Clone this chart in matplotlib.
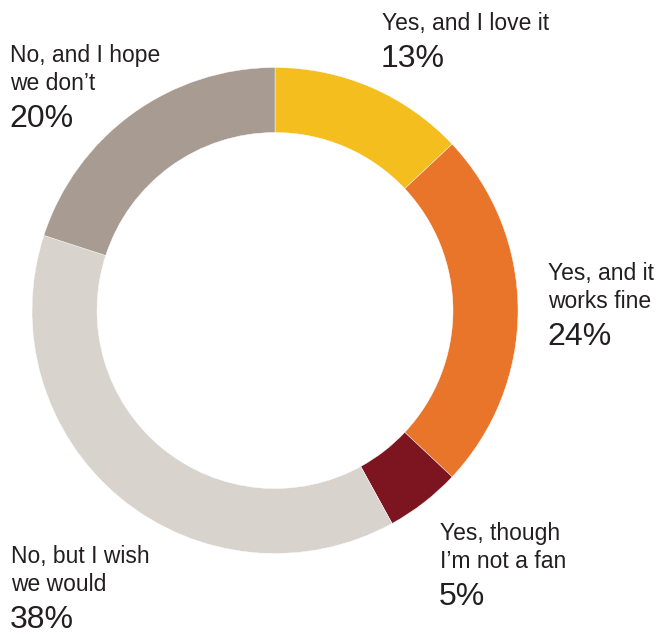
import matplotlib.pyplot as plt

# survey answers, clockwise from the top
labels = ["Yes, and I love it", "Yes, and it\nworks fine", "Yes, though\nI\u2019m not a fan",
          "No, but I wish\nwe would", "No, and I hope\nwe don\u2019t"]
values = [13, 24, 5, 38, 20]
colors = ["#F4BE1E", "#E8752A", "#7D1520", "#D9D3CE", "#A89B91"]

# label anchor (left x, first-line baseline y) in pixels from top-left
label_pos = [(382, 30), (548, 280), (440, 540), (11, 563), (10, 62)]

W, H = 660, 635


def main():
    plt.rcParams['font.family'] = ['Liberation Sans', 'DejaVu Sans']
    fig = plt.figure(figsize=(W / 100, H / 100), dpi=100)
    ax = fig.add_axes([0, 0, 1, 1])

    # donut
    ax.pie(values, colors=colors, startangle=90, counterclock=False,
           center=(275, H - 310.5), radius=243,
           wedgeprops=dict(width=65, edgecolor='white', linewidth=0.3))
    ax.set_xlim(0, W)
    ax.set_ylim(0, H)
    ax.set_aspect('equal')
    ax.axis('off')

    # labels: text lines then big percentage
    for lab, val, (x, y) in zip(labels, values, label_pos):
        lines = lab.split("\n")
        for i, line in enumerate(lines):
            ax.text(x, H - (y + 28 * i), line, fontsize=16.5, color="#231F20",
                    ha='left', va='baseline')
        yp = y + 28 * (len(lines) - 1) + 37
        ax.text(x - 1, H - yp, f"{val}%", fontsize=23, color="#231F20",
                ha='left', va='baseline')

    fig.savefig("out.png", dpi=100)


if __name__ == '__main__':
    main()
